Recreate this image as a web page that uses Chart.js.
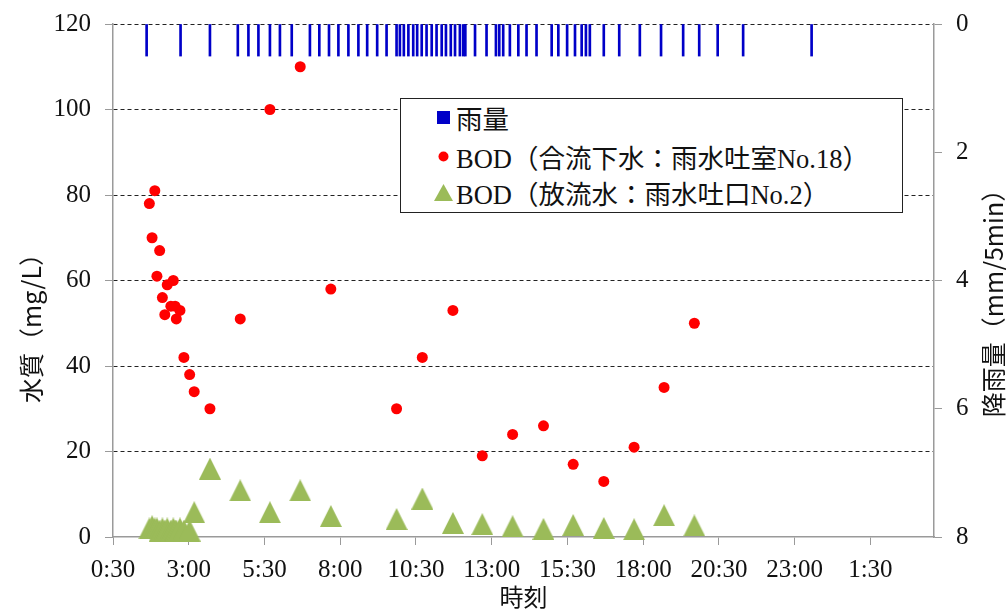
<!DOCTYPE html>
<html>
<head>
<meta charset="utf-8">
<script src="https://cdn.jsdelivr.net/npm/chart.js@4.4.1/dist/chart.umd.min.js"></script>
<style>
  html, body { margin: 0; padding: 0; background: #fff; }
  #wrap { position: relative; width: 1006px; height: 610px; }
  #legend {
    position: absolute; left: 400px; top: 98px; width: 501px; height: 113px;
    border: 1px solid #222; background: #fff;
    font-family: "Liberation Serif", "Noto Sans CJK JP", serif; font-size: 26.5px; color: #111;
  }
  #legend .row { position: absolute; left: 0; height: 32px; display: flex; align-items: center; white-space: nowrap; }
  #legend .mk { width: 24px; margin-left: 30px; margin-right: 1px; display: flex; justify-content: center; align-items: center; }
</style>
</head>
<body>
<div id="wrap">
  <canvas id="chart"></canvas>
  <div id="legend"></div>
</div>
<script>
// Rainfall record: times in hours from 0:00 of the first day, depth per 5 min (mm)
const rainHours = [1.61, 2.73, 3.70, 4.62, 4.97, 5.30, 5.68, 6.01, 6.40, 7.00, 7.31, 7.63, 7.94, 8.27,
  8.60, 8.89, 9.22, 9.53, 9.86, 9.97, 10.10, 10.25, 10.41, 10.54, 10.69, 10.85, 11.02, 11.18, 11.35,
  11.49, 11.65, 11.79, 11.95, 12.06, 12.13, 12.45, 12.83, 13.14, 13.25, 13.38, 13.60, 13.88, 14.15,
  14.48, 14.98, 15.20, 15.49, 15.75, 15.97, 16.11, 16.24, 16.70, 17.21, 17.89, 18.59, 19.32, 19.85,
  20.46, 21.30, 23.56];
const rainMm = [0.5, 0.5, 0.5, 0.5, 0.5, 0.5, 0.5, 0.5, 0.5, 0.5, 0.5, 0.5, 0.5, 0.5,
  0.5, 0.5, 0.5, 0.5, 0.5, 0.5, 0.5, 0.5, 0.5, 0.5, 0.5, 0.5, 0.5, 0.5, 0.5,
  0.5, 0.5, 0.5, 0.5, 0.5, 0.5, 0.5, 0.5, 0.5, 0.5, 0.5, 0.5, 0.5, 0.5,
  0.5, 0.5, 0.5, 0.5, 0.5, 0.5, 0.5, 0.5, 0.5, 0.5, 0.5, 0.5, 0.5, 0.5,
  0.5, 0.5, 0.5];

// Water sampling times (hours) and BOD (mg/L)
const sampleHours = [1.70, 1.79, 1.88, 1.95, 2.04, 2.13, 2.21, 2.29, 2.41, 2.49, 2.55, 2.59, 2.71, 2.84,
  3.03, 3.18, 3.70, 4.70, 5.68, 6.68, 7.69, 9.86, 10.71, 11.72, 12.69, 13.69, 14.71, 15.69, 16.70,
  17.70, 18.69, 19.69];
const bodCombined = [78, 70, 81, 61, 67, 56, 52, 59, 54, 60, 54, 51, 53, 42,
  38, 34, 30, 51, 100, 110, 58, 30, 42, 53, 19, 24, 26, 17, 13,
  21, 35, 50];
const bodOutfall = [2, 2.5, 2, 2, 1.5, 2, 1.5, 2, 1.5, 2, 1.5, 1.5, 2, 1.5,
  1.5, 5.8, 16, 10.9, 5.8, 10.9, 4.9, 4.2, 9.0, 3.3, 3.0, 2.5, 1.9, 2.8, 2.1,
  1.8, 5.1, 2.7];

// Time axis ticks (hours) and their labels
const tickHours = [0.5, 3, 5.5, 8, 10.5, 13, 15.5, 18, 20.5, 23, 25.5];
const tickLabels = ['0:30', '3:00', '5:30', '8:00', '10:30', '13:00', '15:30', '18:00', '20:30', '23:00', '1:30'];

const seriesNames = ['雨量', 'BOD（合流下水：雨水吐室No.18）', 'BOD（放流水：雨水吐口No.2）'];
const BLUE = '#0000c8', RED = '#ff0000', GREEN = '#9bbb59';

// Triangle marker sprite
function triangleSprite(w, h, color) {
  const c = document.createElement('canvas');
  c.width = w; c.height = h;
  const g = c.getContext('2d');
  g.fillStyle = color;
  g.beginPath(); g.moveTo(0, h); g.lineTo(w / 2, 0); g.lineTo(w, h); g.closePath(); g.fill();
  return c;
}
const tri = triangleSprite(22, 22, GREEN);

const pts = (xs, ys) => xs.map((x, i) => ({ x: x, y: ys[i] }));

const tickFont = { family: '"Liberation Serif", serif', size: 25 };
const AXIS_GRAY = '#9a9a9a';

// vertical scales: fixed width, no extra label padding above/below the plot
const fixWidth = w => s => { s.width = w; s.paddingTop = 0; s.paddingBottom = 0; };

const axisTitles = {
  id: 'axisTitles',
  afterDraw(chart) {
    const { ctx, chartArea } = chart;
    ctx.save();
    ctx.fillStyle = '#111';
    ctx.font = '25px "Noto Sans CJK JP"';
    ctx.textAlign = 'center';
    ctx.textBaseline = 'middle';
    ctx.save();
    ctx.translate(31, 322);
    ctx.rotate(-Math.PI / 2);
    ctx.fillText('水質（mg/L）', 0, 0);
    ctx.restore();
    ctx.save();
    ctx.translate(993, 297);
    ctx.rotate(-Math.PI / 2);
    ctx.fillText('降雨量（mm/5min）', 0, 0);
    ctx.restore();
    ctx.font = '24px "Noto Sans CJK JP"';
    ctx.fillText('時刻', (chartArea.left + chartArea.right) / 2, 597);
    ctx.restore();
  }
};

const chart = new Chart(document.getElementById('chart'), {
  type: 'scatter',
  data: {
    datasets: [
      {
        type: 'bar', label: seriesNames[0], data: pts(rainHours, rainMm),
        xAxisID: 'x', yAxisID: 'yR', backgroundColor: BLUE, borderWidth: 0,
        barThickness: 2, grouped: false, order: 3
      },
      {
        label: seriesNames[1], data: pts(sampleHours, bodCombined), yAxisID: 'y',
        pointStyle: 'circle', pointRadius: 5.5, pointBackgroundColor: RED, pointBorderWidth: 0,
        order: 2
      },
      {
        label: seriesNames[2], data: pts(sampleHours, bodOutfall), yAxisID: 'y',
        pointStyle: tri, pointRadius: 11, clip: false, order: 1
      }
    ]
  },
  options: {
    responsive: true, maintainAspectRatio: false, animation: false,
    layout: { padding: { top: 24, left: 0, right: 0, bottom: 0 } },
    plugins: { legend: { display: false }, tooltip: { enabled: false } },
    scales: {
      x: {
        type: 'linear', position: 'bottom', min: 0.5, max: 27.6, offset: false,
        afterBuildTicks: s => { s.ticks = tickHours.map(v => ({ value: v })); },
        afterFit: s => { s.height = 73; },
        ticks: {
          autoSkip: false, maxRotation: 0, font: tickFont, color: '#111', padding: 10,
          callback: (v) => { const i = tickHours.indexOf(v); return i >= 0 ? tickLabels[i] : ''; }
        },
        grid: { offset: false, drawOnChartArea: false, drawTicks: true, tickLength: 8, tickColor: AXIS_GRAY },
        border: { display: true, color: AXIS_GRAY, width: 1.5 }
      },
      y: {
        type: 'linear', position: 'left', min: 0, max: 120,
        afterFit: fixWidth(113),
        ticks: { stepSize: 20, font: tickFont, color: '#111', padding: 14 },
        grid: {
          color: c => (c.tick && c.tick.value === 0) ? 'rgba(0,0,0,0)' : '#222',
          lineWidth: 1, tickLength: 8, tickColor: AXIS_GRAY, tickBorderDash: []
        },
        border: { display: true, color: AXIS_GRAY, width: 1.5, dash: [4, 3] }
      },
      yR: {
        type: 'linear', position: 'right', min: 0, max: 8, reverse: true,
        afterFit: fixWidth(72),
        ticks: { stepSize: 2, font: tickFont, color: '#111', padding: 14 },
        grid: { drawOnChartArea: false, tickLength: 8, tickColor: AXIS_GRAY },
        border: { display: true, color: AXIS_GRAY, width: 1.5 }
      }
    }
  },
  plugins: [axisTitles]
});

// Legend box built from the datasets
(function buildLegend() {
  const box = document.getElementById('legend');
  const rowsTop = [2, 41, 77];
  const marks = [
    '<svg width="13" height="13"><rect width="13" height="13" fill="' + BLUE + '"/></svg>',
    '<svg width="11" height="11"><circle cx="5.5" cy="5.5" r="5" fill="' + RED + '"/></svg>',
    '<svg width="19" height="17"><polygon points="0,17 9.5,0 19,17" fill="' + GREEN + '"/></svg>'
  ];
  chart.data.datasets.forEach((ds, i) => {
    const row = document.createElement('div');
    row.className = 'row';
    row.style.top = rowsTop[i] + 'px';
    row.innerHTML = '<span class="mk">' + marks[i] + '</span><span></span>';
    row.lastChild.textContent = ds.label;
    box.appendChild(row);
  });
})();
</script>
</body>
</html>
